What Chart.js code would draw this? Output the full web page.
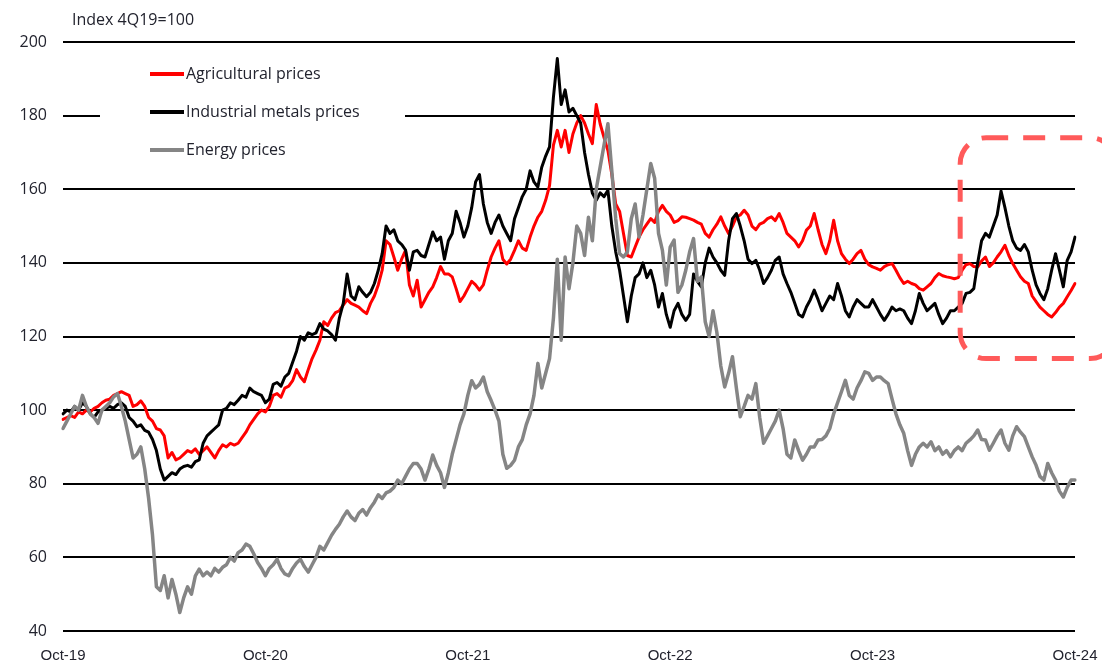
<!DOCTYPE html>
<html lang="en">
<head>
  <meta charset="UTF-8">
  <title>Commodity price indices</title>
  <script src="https://cdn.jsdelivr.net/npm/chart.js"></script>
  <style>
    html, body { margin: 0; padding: 0; background: #fff; }
    #wrap { width: 1102px; height: 662px; }
  </style>
</head>
<body>
<div id="wrap"><canvas id="pricesChart" width="1102" height="662"></canvas></div>

<script>
  // Weekly index values, 4Q19 = 100, from Oct-19 to Oct-24
  const agriculturalPrices = [
    97.5, 98, 98.5, 98, 99.5, 99, 100, 99.5, 100.5, 101,
    102, 102.7, 103, 104, 104.5, 105, 104.5, 104, 101, 101.5,
    102.5, 101, 98, 97, 95, 94.6, 93, 87, 88.5, 86.5,
    87, 88, 89, 88.5, 89.5, 88, 89, 90, 88.5, 87,
    89, 90.6, 90, 91, 90.5, 91, 92.5, 94, 96, 97.5,
    99, 100, 99.5, 101, 104, 104.5, 103.5, 106, 106.5, 108,
    111, 109, 107.7, 111, 114, 116.3, 119, 124, 123, 125,
    126.5, 127, 128.5, 130, 129, 128.5, 128, 127, 126.2, 129,
    131, 134, 138, 146, 145, 141.6, 138, 141, 143.4, 134,
    131, 135.3, 128, 130, 132, 133.5, 136, 139, 137, 137,
    136.2, 133, 129.5, 131, 133, 135, 134, 132.6, 134, 138,
    141.6, 144, 146, 141, 139.7, 141, 143.4, 146, 144, 143.4,
    147, 150, 152.4, 154, 157, 161, 172, 176, 171.5, 176,
    170, 175, 178, 180, 178, 175, 172.4, 183, 177.8, 174,
    170.5, 164, 156, 154, 148, 142, 141.6, 144.3, 147, 149,
    150.5, 152, 151, 154, 155.6, 154, 153, 151, 151.5, 152.5,
    152.4, 152, 151.6, 151, 150.5, 148, 147, 149, 150.5, 152.5,
    150, 148, 150, 152.5, 153, 154.3, 153, 150, 149, 150.5,
    151, 152, 152.5, 151.5, 153.4, 151, 148, 147, 146, 144.3,
    146, 148.9, 150, 153.4, 149, 145, 142.5, 146, 151.6, 146,
    142.5, 141, 139.8, 141, 142.5, 143.4, 141, 139.5, 138.9, 138.5,
    138, 139, 139.5, 139.8, 138, 136, 134.4, 135, 134.4, 134,
    133, 132.6, 133.5, 134.4, 136, 137.1, 136.5, 136.2, 136, 135.7,
    136, 138, 139.5, 139.8, 139, 138.9, 140.5, 141.6, 139, 140,
    141.6, 143, 144.8, 142, 139.8, 138, 136.2, 135, 134.4, 131,
    129.5, 128, 127, 126, 125.3, 126.5, 128, 129, 130.8, 132.5,
    134.4
  ];

  const metalsPrices = [
    99, 100, 99.5, 101, 100, 102, 101, 99, 98, 99.5,
    100, 100.5, 101, 100.5, 101.5, 102, 101, 98, 97, 95.5,
    96, 94.5, 94, 92, 89, 84, 81, 82, 83, 82.5,
    84, 84.7, 85, 84.5, 86, 86.5, 91, 93, 94, 95,
    96, 100, 100.5, 102, 101.5, 102.7, 104, 103.5, 106, 105,
    104.5, 104, 102, 103, 107, 107.5, 106.5, 109, 110, 113,
    116, 120, 119, 121, 120.5, 121, 123.5, 122, 121.5, 120.5,
    119, 125, 129, 137, 131, 130, 133.5, 132, 130.8, 132,
    134.4, 138, 142.5, 150, 148, 149, 146, 145, 143.5, 138,
    143, 143.4, 142, 141.6, 145, 148.4, 146, 147, 141, 146,
    148, 154, 151, 147, 150, 155, 162, 164, 156, 151,
    148, 151, 153, 150, 148, 146, 152, 155, 158, 160,
    165, 162, 160.6, 166, 169, 171.5, 185, 195.5, 183, 187,
    181, 182, 180, 178, 170, 164, 159, 157, 159, 158,
    159.7, 150, 143, 138, 131, 124, 131, 136, 137, 140,
    136, 138, 134, 128, 131.7, 126, 122.5, 127, 129, 126,
    124.4, 126, 137, 135, 133.5, 140, 144, 141.6, 140, 138,
    136.6, 146, 152, 153.4, 150, 146, 141, 139.8, 140.7, 138,
    134.4, 136, 138, 140.7, 141.6, 137, 134.4, 132, 129, 126,
    125.3, 128, 130, 132.6, 130, 127, 129, 131, 130, 134.4,
    131, 127, 125.3, 128, 130, 129, 128, 128, 130, 128,
    126, 124.4, 126, 128, 127, 127.5, 127, 125, 123.5, 127,
    131.7, 129, 127, 128, 129, 126, 123.5, 125, 127, 127,
    128, 129, 131.7, 132, 133, 140, 146, 148, 147, 150,
    153, 159.5, 155, 150, 146, 144, 143.4, 145, 143, 138,
    134, 131.7, 130, 133, 138, 142.5, 138, 133.5, 140.7, 143,
    147
  ];

  const energyPrices = [
    95, 97, 99, 101, 100, 104, 101, 99, 98, 96.4,
    100, 101, 102, 103.6, 104.5, 101, 97, 92, 87, 88,
    90, 84, 76, 66, 52, 51, 55, 49, 54, 50,
    45, 49, 52, 50, 55, 56.8, 55, 56, 55, 57,
    56, 57.3, 58, 60, 59, 61.3, 62, 63.6, 63, 61,
    58.6, 57, 55, 57, 58, 59.5, 57, 55.5, 55, 57,
    58.5, 59.5, 57.5, 56, 58, 60, 63, 62, 64, 66,
    67.6, 69, 71, 72.6, 71, 70, 72, 73, 71.5, 73.5,
    75, 77, 76, 77.5, 78, 79, 81, 80, 82, 84,
    85.5, 85.5, 84, 81, 84, 87.8, 85, 83, 79, 83,
    88, 92, 96, 99, 104, 108, 106, 107, 109, 105,
    102.6, 100, 97, 88, 84.2, 85, 86.4, 90, 92, 96,
    99, 104, 112.7, 106, 110, 114, 125, 141, 119, 141.6,
    133, 140, 150, 148, 142, 152.4, 146, 160, 166, 172,
    177.8, 165, 152, 142.5, 141.6, 143, 152, 156, 147, 153,
    160, 167, 163, 148, 143.4, 134, 144.3, 146.2, 132, 134,
    138, 143, 146.6, 135, 136.2, 124, 120, 127, 121, 112,
    106.3, 110, 114.5, 106, 98.2, 101, 104, 103, 107.2, 98,
    91, 93, 95, 97, 100, 95, 88, 87, 91.9, 89,
    86.4, 88, 90, 90, 91.9, 92, 93, 95, 99, 102,
    105, 108.1, 104, 103, 106, 108, 110.4, 110, 108.1, 109,
    109, 108, 107.2, 103, 99, 96, 93.7, 89, 85, 88,
    90, 91, 90, 91.4, 89, 90, 88, 89, 87.3, 89,
    90, 89, 91, 91.9, 93, 94.6, 92, 91.9, 89.1, 91,
    93, 94.6, 91, 89.1, 93, 95.5, 94, 92.8, 90, 87.3,
    85, 82, 81, 85.5, 83, 81, 78, 76.4, 79, 81,
    81
  ];

  // one tick label per year, every 52 weeks
  const yearLabels = ['Oct-19', 'Oct-20', 'Oct-21', 'Oct-22', 'Oct-23', 'Oct-24'];
  const weeksPerYear = 52;

  const firstWeek = Date.UTC(2019, 9, 1);
  const weekLabels = agriculturalPrices.map(function (_, i) {
    return new Date(firstWeek + i * 7 * 86400000).toISOString().slice(0, 10);
  });

  const textColor = '#22232e';
  const baseFont = "'Open Sans', 'DejaVu Sans', sans-serif";

  // legend block in the upper left, drawn over a white panel
  const legendBlock = {
    id: 'legendBlock',
    afterDatasetsDraw(chart) {
      const ctx = chart.ctx;
      ctx.save();
      ctx.fillStyle = '#fff';
      ctx.fillRect(100, 58, 305, 108);
      ctx.font = '16px ' + baseFont;
      ctx.textBaseline = 'middle';
      ctx.textAlign = 'left';
      chart.data.datasets.forEach(function (ds, i) {
        const y = 74 + i * 38;
        ctx.strokeStyle = ds.borderColor;
        ctx.lineWidth = 4;
        ctx.beginPath();
        ctx.moveTo(150, y);
        ctx.lineTo(184, y);
        ctx.stroke();
        ctx.fillStyle = textColor;
        ctx.fillText(ds.label, 186, y);
      });

      ctx.fillText('Index 4Q19=100', 72, 20);
      ctx.restore();
    }
  };

  // dashed rounded frame around the latest months
  const focusFrame = {
    id: 'focusFrame',
    afterDatasetsDraw(chart) {
      const x = chart.scales.x, y = chart.scales.y;
      const ctx = chart.ctx;
      const left = x.getPixelForValue(230.5);
      const right = chart.width + 14;
      const top = y.getPixelForValue(174);
      const bottom = y.getPixelForValue(114);
      ctx.save();
      ctx.strokeStyle = '#ff5a5a';
      ctx.lineWidth = 5;
      ctx.setLineDash([22, 15]);
      ctx.beginPath();
      ctx.roundRect(left, top, right - left, bottom - top, 26);
      ctx.stroke();
      ctx.restore();
    }
  };

  const ctx = document.getElementById('pricesChart').getContext('2d');
  const pricesChart = new Chart(ctx, {
    type: 'line',
    data: {
      labels: weekLabels,
      datasets: [
        {
          label: 'Agricultural prices',
          data: agriculturalPrices,
          borderColor: '#ff0000',
          borderWidth: 3,
          order: 2
        },
        {
          label: 'Industrial metals prices',
          data: metalsPrices,
          borderColor: '#000000',
          borderWidth: 3,
          order: 1
        },
        {
          label: 'Energy prices',
          data: energyPrices,
          borderColor: '#858585',
          borderWidth: 3.5,
          order: 0
        }
      ]
    },
    options: {
      responsive: false,
      animation: false,
      devicePixelRatio: 1,
      layout: { padding: { top: 42, right: 27, left: 0, bottom: 0 } },
      elements: {
        point: { radius: 0 },
        line: { tension: 0, borderJoinStyle: 'round', borderCapStyle: 'round' }
      },
      plugins: {
        legend: { display: false },
        tooltip: { enabled: false }
      },
      scales: {
        x: {
          grid: { display: false },
          border: { display: false },
          afterFit(scale) {
            scale.height = 31;
            // the last label may overhang the plot, keep the plot edge fixed
            scale.paddingRight = 0;
            scale.paddingLeft = 0;
          },
          ticks: {
            autoSkip: false,
            maxRotation: 0,
            padding: 8,
            color: textColor,
            font: { family: "'Liberation Sans', Arial, sans-serif", size: 15 },
            callback(value, index) {
              return index % weeksPerYear === 0 ? yearLabels[index / weeksPerYear] : null;
            }
          }
        },
        y: {
          min: 40,
          max: 200,
          afterFit(scale) { scale.width = 63; },
          border: { display: false },
          grid: { color: '#000', lineWidth: 2, drawTicks: false },
          ticks: {
            stepSize: 20,
            padding: 16,
            color: textColor,
            font: { family: baseFont, size: 16 }
          }
        }
      }
    },
    plugins: [legendBlock, focusFrame]
  });
</script>
</body>
</html>
